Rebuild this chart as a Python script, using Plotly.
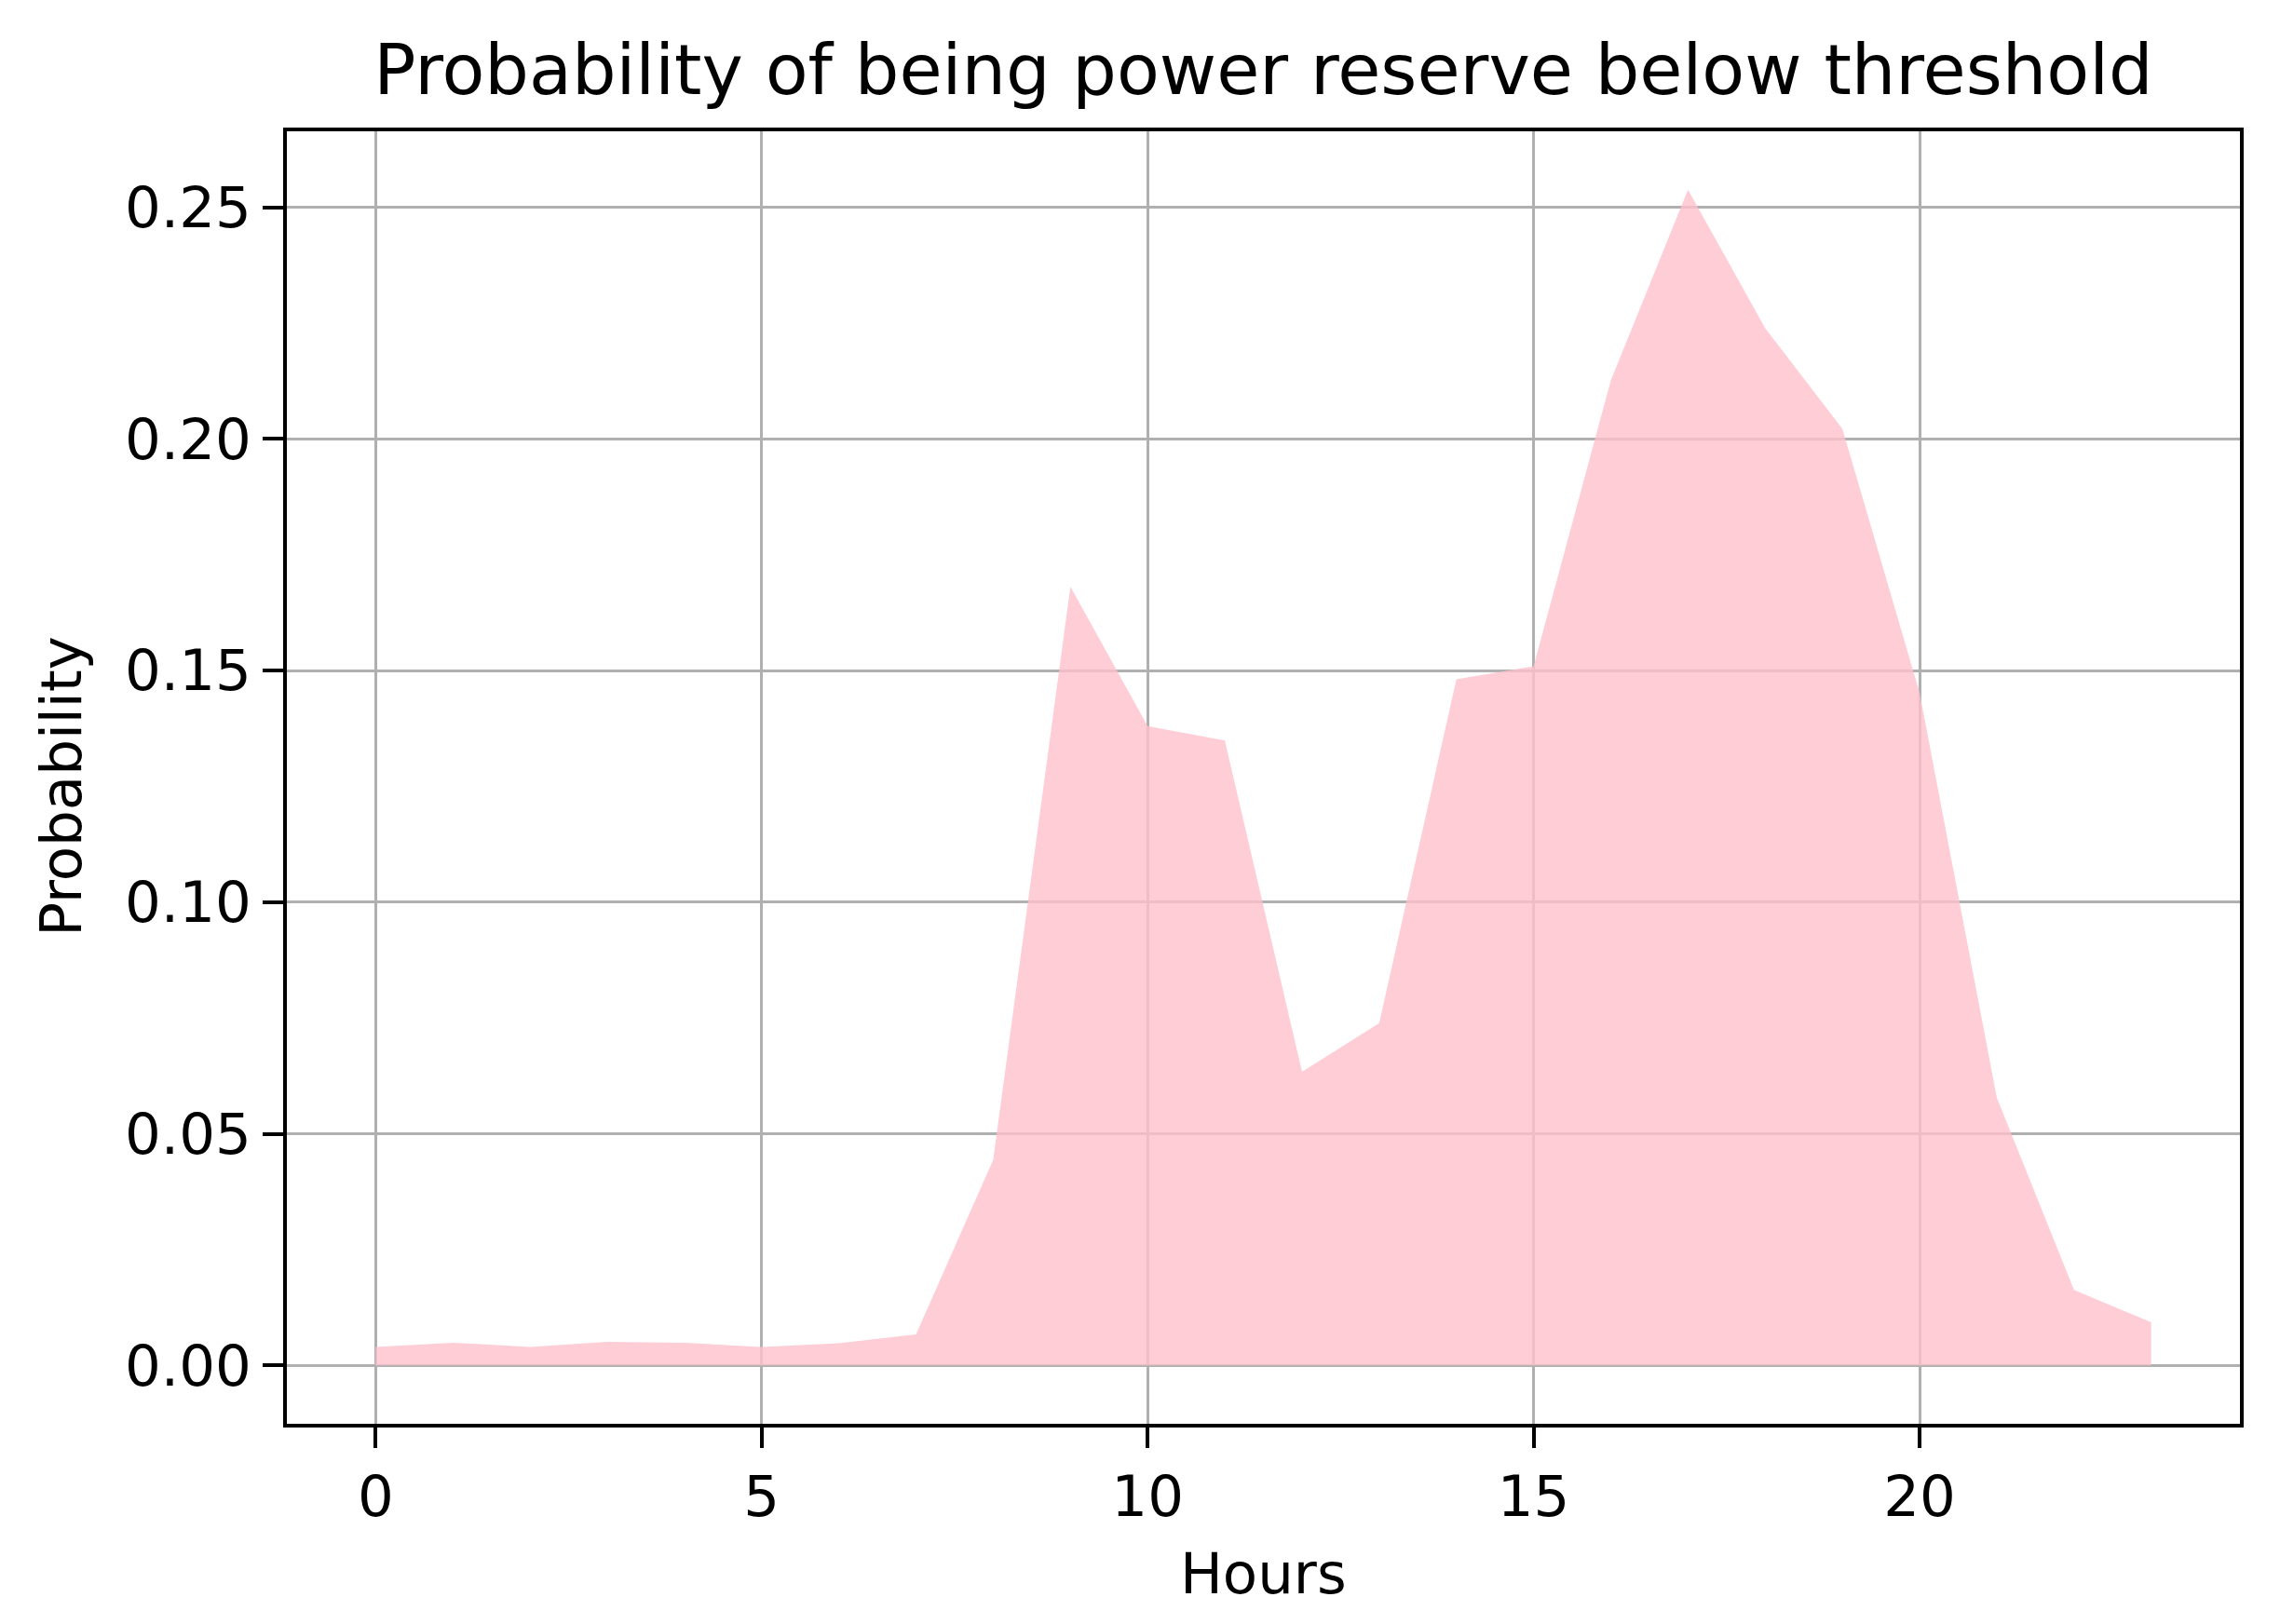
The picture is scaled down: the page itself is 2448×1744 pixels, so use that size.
import plotly.graph_objects as go

hours = list(range(24))
probability = [0.0040, 0.0049, 0.0040, 0.0051, 0.0049, 0.0040, 0.0048, 0.0067,
               0.0444, 0.1681, 0.1380, 0.1349, 0.0634, 0.0739, 0.1481, 0.1509,
               0.2126, 0.2538, 0.2239, 0.2022, 0.1452, 0.0578, 0.0163, 0.0093]
x_ticks = [0, 5, 10, 15, 20]
y_ticks = [0.00, 0.05, 0.10, 0.15, 0.20, 0.25]
y_tick_labels = ["0.00", "0.05", "0.10", "0.15", "0.20", "0.25"]

title_text = "Probability of being power reserve below threshold"
x_title = "Hours"
y_title = "Probability"

W, H = 2448, 1744
L, R, T, B = 308, 2405, 141, 1529

xr = [-1.15, 24.15]
yr = [-0.0126, 0.2664]

FONT = "DejaVu Sans"

fig = go.Figure()
fig.add_trace(go.Scatter(
    x=hours, y=probability, mode="lines", fill="tozeroy",
    line=dict(width=0, color="rgba(255,192,203,0)"),
    fillcolor="rgba(255,192,203,0.8)", showlegend=False, hoverinfo="x+y",
    xaxis="x", yaxis="y"))
# empty trace on overlay axes so the grid is drawn above the fill
fig.add_trace(go.Scatter(x=[None], y=[None], mode="markers", showlegend=False,
                         xaxis="x2", yaxis="y2", hoverinfo="skip"))

axis_common = dict(
    showline=True, linecolor="black", linewidth=4, mirror=True,
    ticks="outside", ticklen=22, tickwidth=4, tickcolor="black",
    tickfont=dict(family=FONT, size=61, color="black"),
    zeroline=False, showgrid=False,
)

fig.update_layout(
    width=W, height=H,
    margin=dict(l=L, r=W - R, t=T, b=H - B, pad=0),
    paper_bgcolor="white", plot_bgcolor="white",
    title=dict(text=title_text, x=(L + R) / 2 / W, xanchor="center",
               y=1 - 75 / H, yanchor="middle",
               font=dict(family=FONT, size=75, color="black")),
    xaxis=dict(range=xr, tickvals=x_ticks, ticktext=[str(v) for v in x_ticks],
               **axis_common),
    yaxis=dict(range=yr, tickvals=y_ticks, ticktext=y_tick_labels, **axis_common),
    xaxis2=dict(range=xr, overlaying="x", tickvals=x_ticks, showgrid=True,
                gridcolor="#b0b0b0", gridwidth=3, showticklabels=False,
                zeroline=False, showline=False, ticks=""),
    yaxis2=dict(range=yr, overlaying="y", tickvals=y_ticks, showgrid=True,
                gridcolor="#b0b0b0", gridwidth=3, showticklabels=False,
                zeroline=False, showline=False, ticks=""),
    annotations=[
        dict(text=x_title, xref="paper", yref="paper",
             x=0.5, y=(B - 1689) / (B - T), xanchor="center", yanchor="middle",
             showarrow=False, font=dict(family=FONT, size=61, color="black")),
        dict(text=y_title, xref="paper", yref="paper", textangle=-90,
             x=(66 - L) / (R - L), y=0.493, xanchor="center", yanchor="middle",
             showarrow=False, font=dict(family=FONT, size=61, color="black")),
    ],
)

fig.write_html("out.html", config={"displayModeBar": False},
               post_script="document.body.style.margin='0px';document.body.style.overflow='hidden';")
